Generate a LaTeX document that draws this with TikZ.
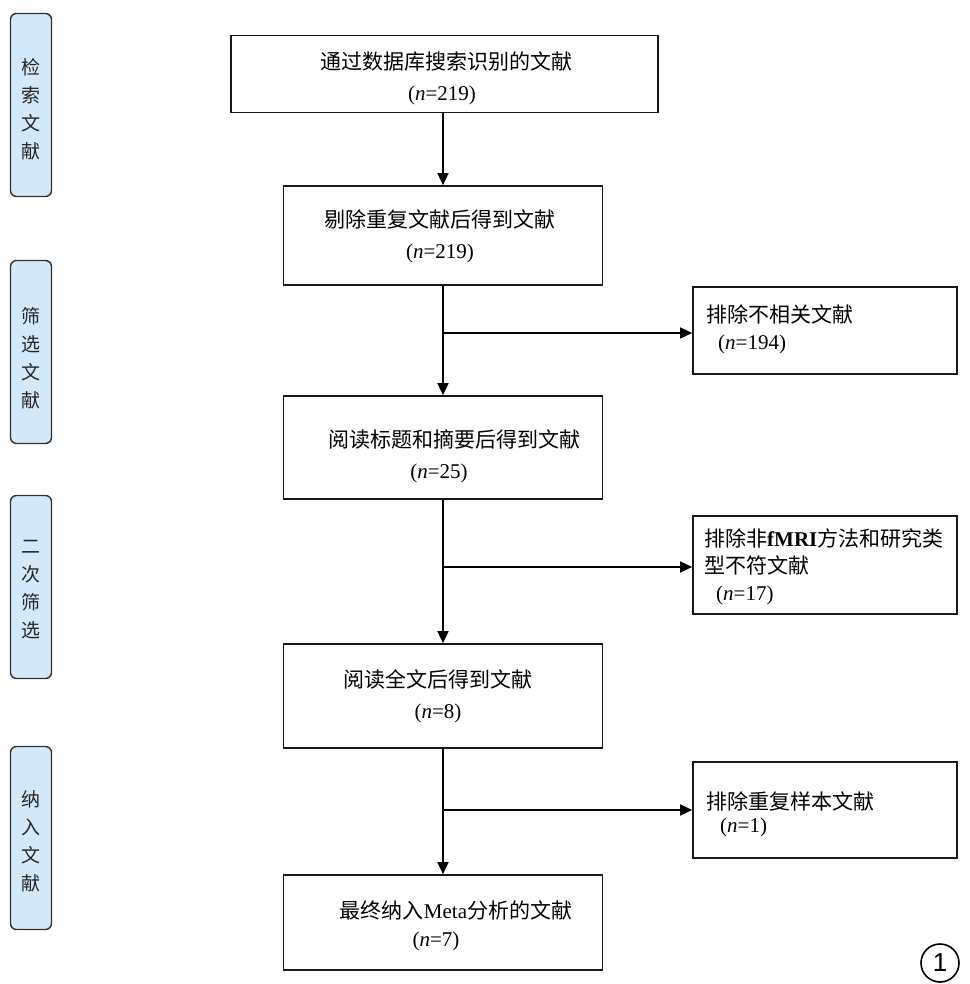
\documentclass[tikz,border=0pt]{standalone}
\usepackage{fontspec}
\setmainfont{Liberation Serif}
\newfontfamily\cjk{Noto Sans CJK SC}
\newfontfamily\lsans{Liberation Sans}
\usetikzlibrary{arrows.meta}
\definecolor{sidefill}{HTML}{D3E8F8}
\definecolor{sidedraw}{HTML}{333333}
\tikzset{
  mainbox/.style={draw=black!90, line width=1.7pt, minimum width=319pt, minimum height=100pt, inner sep=0pt},
  sidebox/.style={draw=black!90, line width=1.7pt, minimum width=264pt, inner sep=0pt},
  stagebox/.style={draw=sidedraw, fill=sidefill, line width=1.4pt, rounded corners=6pt, minimum width=41pt, minimum height=183pt, inner sep=0pt},
  stagetext/.style={font=\fontsize{19}{28}\selectfont\cjk, align=center, text=black!85},
  mtext/.style={font=\fontsize{21}{31}\selectfont, align=center, inner sep=0pt},
  stext/.style={font=\fontsize{21}{27}\selectfont, align=left, inner sep=0pt, anchor=north west},
  flow/.style={line width=1.6pt, -{Triangle[length=12pt,width=11pt]}}
}
\begin{document}
\begin{tikzpicture}[x=1pt,y=-1pt]
\useasboundingbox (0,0) rectangle (969,984);
% stage boxes
\node[stagebox] (s1) at (31,105) {};
\node[stagetext] at (31,109) {检\\索\\文\\献};
\node[stagebox] (s2) at (31,352) {};
\node[stagetext] at (31,358) {筛\\选\\文\\献};
\node[stagebox] (s3) at (31,587) {};
\node[stagetext] at (31,590) {二\\次\\筛\\选};
\node[stagebox] (s4) at (31,838) {};
\node[stagetext] at (31,841) {纳\\入\\文\\献};
% main boxes
\node[mainbox, minimum width=427pt, minimum height=77pt] (a) at (444.5,74) {};
\node[mtext] at (446,78) {{\cjk 通过数据库搜索识别的文献}\\\hspace*{-8pt}(\textit{n}=219)};
\node[mainbox, minimum height=99pt] (b) at (443,235.5) {};
\node[mtext] at (440,236) {{\cjk 剔除重复文献后得到文献}\\(\textit{n}=219)};
\node[mainbox, minimum height=103pt] (c) at (443,447.5) {};
\node[mtext] at (454,456) {{\cjk 阅读标题和摘要后得到文献}\\\hspace*{-30pt}(\textit{n}=25)};
\node[mainbox, minimum height=104pt] (d) at (443,696) {};
\node[mtext] at (438,696) {{\cjk 阅读全文后得到文献}\\(\textit{n}=8)};
\node[mainbox, minimum height=95pt] (e) at (443,922.5) {};
\node[mtext, font=\fontsize{21}{28}\selectfont] at (456,926) {{\cjk 最终纳入}Meta{\cjk 分析的文献}\\\hspace*{-40pt}(\textit{n}=7)};
% side boxes
\node[sidebox, minimum height=87pt] (x1) at (825,330.5) {};
\node[stext] at (706,305) {{\cjk 排除不相关文献}\\\hspace*{12pt}(\textit{n}=194)};
\node[sidebox, minimum height=98pt] (x2) at (825,565) {};
\node[stext] at (704,529) {{\cjk 排除非}\textbf{fMRI}{\cjk 方法和研究类}\\{\cjk 型不符文献}\\\hspace*{12pt}(\textit{n}=17)};
\node[sidebox, minimum height=96pt] (x3) at (825,810) {};
\node[stext, font=\fontsize{21}{23}\selectfont] at (706,792) {{\cjk 排除重复样本文献}\\\hspace*{14pt}(\textit{n}=1)};
% connectors
\draw[flow] (a.south -| 443,0) -- (b.north -| 443,0);
\draw[flow] (b.south -| 443,0) -- (c.north -| 443,0);
\draw[flow] (c.south -| 443,0) -- (d.north -| 443,0);
\draw[flow] (d.south -| 443,0) -- (e.north -| 443,0);
\coordinate (j1) at (443,333);
\coordinate (j2) at (443,567);
\coordinate (j3) at (443,810);
\draw[flow] (j1) -- (j1 -| x1.west);
\draw[flow] (j2) -- (j2 -| x2.west);
\draw[flow] (j3) -- (j3 -| x3.west);
% circled number
\node[draw, circle, line width=1.6pt, minimum size=38pt, inner sep=0pt, font=\fontsize{26}{26}\selectfont\lsans] (num) at (940,963) {1};
\end{tikzpicture}
\end{document}
